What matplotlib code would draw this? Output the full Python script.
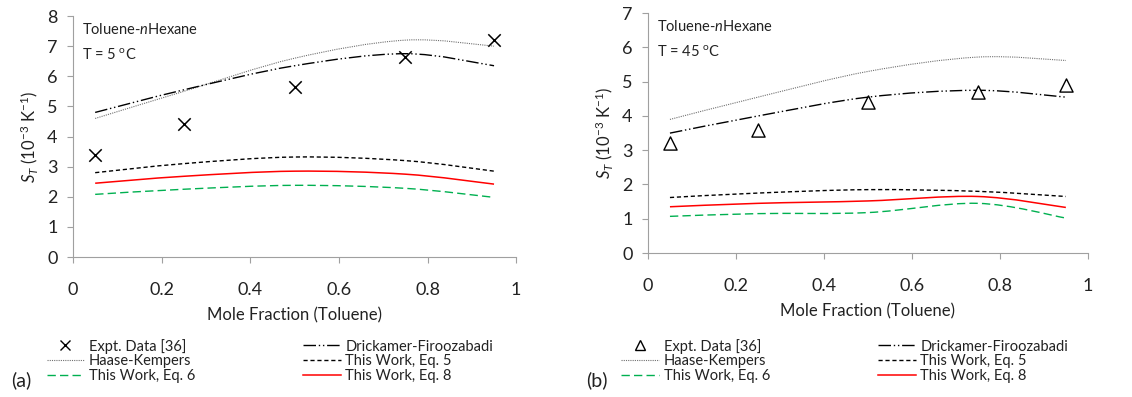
import numpy as np
import matplotlib
matplotlib.use("Agg")
import matplotlib.pyplot as plt
from matplotlib.path import Path
from matplotlib.patches import PathPatch
from matplotlib.lines import Line2D

plt.rcParams['font.family'] = ['Lato', 'DejaVu Sans']
plt.rcParams['mathtext.fontset'] = 'custom'
plt.rcParams['mathtext.rm'] = 'Lato'
plt.rcParams['mathtext.it'] = 'Lato:italic'

# mole fraction of toluene
x = [0.05, 0.25, 0.5, 0.75, 0.95]

# (a) T = 5 C
expt_a = [3.4, 4.4, 5.65, 6.65, 7.2]
drick_a = [4.8, 5.55, 6.35, 6.75, 6.35]
haase_a = [4.6, 5.5, 6.6, 7.2, 7.0]
eq5_a = [2.8, 3.1, 3.32, 3.2, 2.85]
eq8_a = [2.45, 2.68, 2.85, 2.75, 2.42]
eq6_a = [2.08, 2.25, 2.38, 2.28, 1.98]

# (b) T = 45 C
expt_b = [3.2, 3.6, 4.4, 4.7, 4.9]
drick_b = [3.5, 4.0, 4.55, 4.75, 4.55]
haase_b = [3.9, 4.55, 5.3, 5.72, 5.62]
eq5_b = [1.62, 1.75, 1.85, 1.8, 1.65]
eq8_b = [1.35, 1.45, 1.52, 1.65, 1.33]
eq6_b = [1.07, 1.15, 1.18, 1.45, 1.02]

styles = {
    'drick': dict(color='black', lw=1.0, ls=(0, (9, 2, 1, 2, 1, 2))),
    'haase': dict(color='#707070', lw=0.8, ls=(0, (1, 1))),
    'eq5': dict(color='black', lw=1.0, ls=(0, (3, 2))),
    'eq6': dict(color='#00b050', lw=1.0, ls=(0, (6, 3))),
    'eq8': dict(color='red', lw=1.1, ls='-'),
}


# smoothed line like excel (bezier through the points)
def smooth_line(ax, xs, ys, st):
    xs = np.asarray(xs, float)
    ys = np.asarray(ys, float)
    verts = [(xs[0], ys[0])]
    codes = [Path.MOVETO]
    n = len(xs)
    for i in range(n - 1):
        p0 = (xs[max(i - 1, 0)], ys[max(i - 1, 0)])
        p1 = (xs[i], ys[i])
        p2 = (xs[i + 1], ys[i + 1])
        p3 = (xs[min(i + 2, n - 1)], ys[min(i + 2, n - 1)])
        c1 = (p1[0] + (p2[0] - p0[0]) / 6, p1[1] + (p2[1] - p0[1]) / 6)
        c2 = (p2[0] - (p3[0] - p1[0]) / 6, p2[1] - (p3[1] - p1[1]) / 6)
        verts += [c1, c2, p2]
        codes += [Path.CURVE4] * 3
    ax.add_patch(PathPatch(Path(verts, codes), facecolor='none',
                           edgecolor=st['color'], lw=st['lw'], ls=st['ls']))


def panel(ax, expt, drick, haase, eq5, eq8, eq6, marker, ymax, temp, tag):
    smooth_line(ax, x, haase, styles['haase'])
    smooth_line(ax, x, drick, styles['drick'])
    smooth_line(ax, x, eq5, styles['eq5'])
    smooth_line(ax, x, eq6, styles['eq6'])
    smooth_line(ax, x, eq8, styles['eq8'])
    if marker == 'x':
        ax.scatter(x, expt, marker='x', s=80, color='black', lw=1.1, zorder=5)
    else:
        ax.scatter(x, expt, marker='^', s=90, facecolor='white', edgecolor='black',
                   lw=1.0, zorder=5)
    ax.set_xlim(0, 1)
    ax.set_ylim(0, ymax)
    ax.set_xticks([0, 0.2, 0.4, 0.6, 0.8, 1])
    ax.set_xticklabels(['0', '0.2', '0.4', '0.6', '0.8', '1'])
    ax.set_yticks(range(0, ymax + 1))
    for s in ['top', 'right']:
        ax.spines[s].set_visible(False)
    for s in ['left', 'bottom']:
        ax.spines[s].set_color('#a0a0a0')
    ax.tick_params(colors='#a0a0a0', labelcolor='#222222', labelsize=13, length=4)
    ax.tick_params(axis='x', pad=14)
    ax.tick_params(axis='y', pad=7)
    ax.set_xlabel('Mole Fraction (Toluene)', fontsize=12, color='#222222', labelpad=7)
    ax.set_ylabel(r'$S_T$ (10$^{-3}$ K$^{-1}$)', fontsize=12, color='#222222',
                  labelpad=5)
    ax.text(0.02, 0.975, 'Toluene-$\\it{n}$Hexane', transform=ax.transAxes,
            fontsize=10.5, color='#222222', va='top')
    ax.text(0.02, 0.87, 'T = %d $^{\\rm o}$C' % temp, transform=ax.transAxes,
            fontsize=10.5, color='#222222', va='top')

    if marker == 'x':
        h0 = Line2D([], [], ls='none', marker='x', color='black', ms=7)
    else:
        h0 = Line2D([], [], ls='none', marker='^', mfc='white', mec='black', ms=7)
    hs = [h0,
          Line2D([], [], **styles['haase']),
          Line2D([], [], **styles['eq6']),
          Line2D([], [], **styles['drick']),
          Line2D([], [], **styles['eq5']),
          Line2D([], [], **styles['eq8'])]
    labels = ['Expt. Data [36]', 'Haase-Kempers', 'This Work, Eq. 6',
              'Drickamer-Firoozabadi', 'This Work, Eq. 5', 'This Work, Eq. 8']
    pos = ax.get_position()
    fig.legend(hs, labels, ncol=2, frameon=False, fontsize=10.5,
               loc='upper left', bbox_to_anchor=(pos.x0 - 0.035, 0.18),
               handlelength=2.6, handletextpad=0.3, columnspacing=7.4,
               labelspacing=0.05, labelcolor='#222222')
    fig.text(pos.x0 - 0.055, 0.028, tag, fontsize=14, color='#222222')


fig = plt.figure(figsize=(11.32, 3.97), dpi=100)
ax1 = fig.add_axes([0.0645, 0.3526, 0.3915, 0.607])
ax2 = fig.add_axes([0.5724, 0.3627, 0.3886, 0.604])

panel(ax1, expt_a, drick_a, haase_a, eq5_a, eq8_a, eq6_a, 'x', 8, 5, '(a)')
panel(ax2, expt_b, drick_b, haase_b, eq5_b, eq8_b, eq6_b, '^', 7, 45, '(b)')

fig.savefig('out.png', dpi=100)
